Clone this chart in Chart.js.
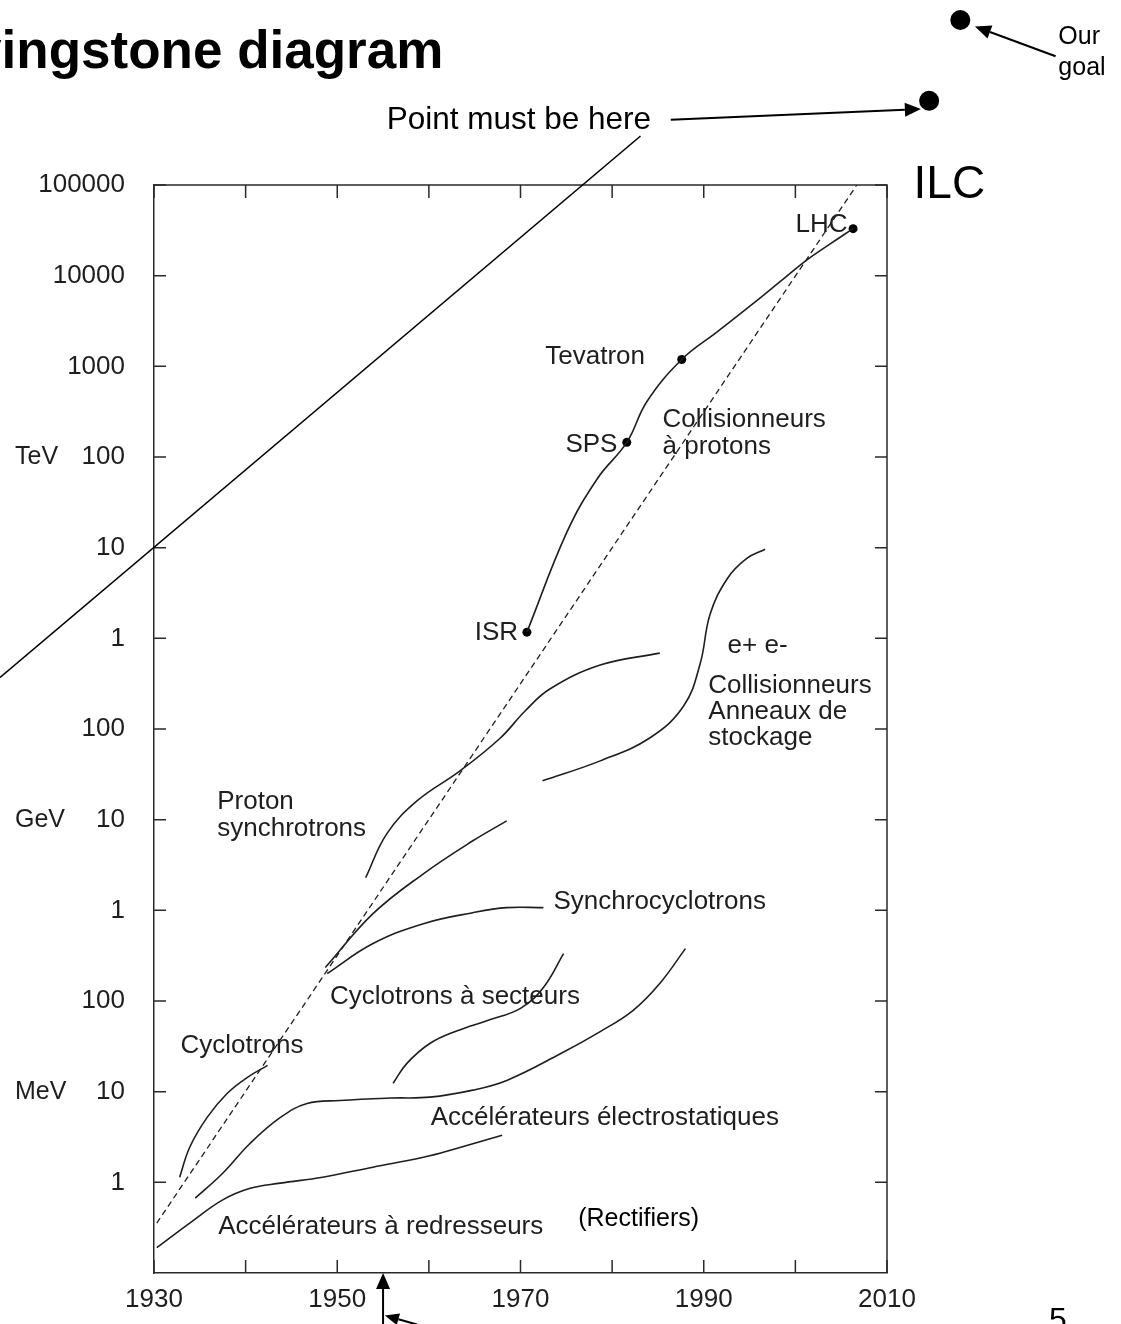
<!DOCTYPE html>
<html>
<head>
<meta charset="utf-8">
<script src="https://cdn.jsdelivr.net/npm/chart.js@4.4.1/dist/chart.umd.min.js"></script>
<style>
  html, body { margin: 0; padding: 0; background: #fff; }
  #wrap { position: relative; width: 1121px; height: 1324px; overflow: hidden; }
</style>
</head>
<body>
<div id="wrap"><canvas id="chart"></canvas></div>
<script>
// --- data (years, beam energy in MeV) ---
const rectifierYears = [1930.3, 1933.9, 1937.5, 1940.5, 1943.8, 1948.4, 1953.9, 1959.4, 1963.1, 1968.0];
const rectifierMeV = [0.19, 0.355, 0.64, 0.86, 0.98, 1.14, 1.47, 1.89, 2.38, 3.3];

const electrostaticYears = [1934.5, 1937.5, 1940.5, 1943.8, 1946.7, 1950.3, 1955.8, 1960.1, 1964.8, 1968.5, 1974.3, 1978.7, 1982.3, 1985.2, 1988.0];
const electrostaticMeV = [0.67, 1.26, 2.7, 5.2, 7.4, 8.0, 8.5, 8.7, 10.4, 13.3, 26, 46, 79, 156, 378];

const cyclotronYears = [1932.8, 1933.9, 1935.8, 1938.0, 1940.2, 1942.4];
const cyclotronMeV = [1.14, 2.44, 5.2, 9.6, 14.4, 19.5];

const sectorYears = [1956.1, 1957.6, 1960.1, 1963.1, 1966.4, 1970.0, 1972.5, 1974.7];
const sectorMeV = [12.4, 20.5, 34, 47, 61, 83, 141, 333];

const synchrocyclotronYears = [1948.9, 1953.9, 1959.4, 1964.8, 1968.5, 1972.5];
const synchrocyclotronMeV = [201, 430, 713, 942, 1070, 1070];

const electronSyncYears = [1948.7, 1953.9, 1959.4, 1964.8, 1968.5];
const electronSyncMeV = [234, 918, 2530, 5850, 9700];

const protonSyncYears = [1953.1, 1955.4, 1958.7, 1963.4, 1967.8, 1970.5, 1973.2, 1978.7, 1985.2];
const protonSyncMeV = [2290, 6980, 16100, 34500, 79600, 158000, 276000, 507000, 687000];

const eeColliderYears = [1972.4, 1978.7, 1984.1, 1987.8, 1989.6, 1990.7, 1992.6, 1994.7, 1996.7];
const eeColliderMeV = [26800, 44500, 79600, 179000, 520000, 1.85e6, 4.6e6, 7.6e6, 9.6e6];

const ppColliderYears = [1970.7, 1975.1, 1978.4, 1981.6, 1983.8, 1987.6, 1991.5, 1995.1, 1998.7, 2001.3, 2003.8, 2006.3];
const ppColliderMeV = [1.17e6, 1.51e7, 5.8e7, 1.45e8, 4.1e8, 1.19e9, 2.41e9, 4.66e9, 9.2e9, 1.5e10, 2.24e10, 3.3e10];

const machineNames = ['ISR', 'SPS', 'Tevatron', 'LHC'];
const machineYears = [1970.7, 1981.6, 1987.6, 2006.3];
const machineMeV = [1.17e6, 1.45e8, 1.19e9, 3.3e10];

const trendYears = [1930.3, 2006.7];
const trendMeV = [0.355, 1e11];

// annotation marks added on the slide (outside the plot box)
const goalNames = ['Point must be here', 'Our goal'];
const goalYears = [2014.6, 2018.0];
const goalMeV = [8.5e11, 6.6e12];
const extrapYears = [1913.2, 1983.1];
const extrapMeV = [3.7e5, 3.47e11];

// tick labels
const xTickLabelYears = [1930, 1950, 1970, 1990, 2010];
const yTickValues = [1, 10, 100, 1e3, 1e4, 1e5, 1e6, 1e7, 1e8, 1e9, 1e10, 1e11];
const yTickLabels = ['1', '10', '100', '1', '10', '100', '1', '10', '100', '1000', '10000', '100000'];
const unitNames = ['MeV', 'GeV', 'TeV'];
const unitAtMeV = [10, 1e4, 1e8];

// text written inside the plot (left edge year, centre energy)
const plotLabels = [
  ['Tevatron', 1972.7, 1.28e9], ['SPS', 1974.9, 1.37e8], ['ISR', 1965.0, 1.14e6],
  ['Collisionneurs', 1985.5, 2.59e8], ['à protons', 1985.5, 1.31e8],
  ['e+ e-', 1992.6, 8.2e5], ['Collisionneurs', 1990.5, 2.98e5], ['Anneaux de', 1990.5, 1.54e5], ['stockage', 1990.5, 7.96e4],
  ['Proton', 1936.9, 1.57e4], ['synchrotrons', 1936.9, 7.9e3],
  ['Synchrocyclotrons', 1973.6, 1.25e3], ['Cyclotrons à secteurs', 1949.2, 112], ['Cyclotrons', 1932.9, 32.4],
  ['Accélérateurs électrostatiques', 1960.2, 5.2], ['Accélérateurs à redresseurs', 1937.0, 0.32]
];

const ink = '#1e1e1e';
const FONT = '"Liberation Sans", Arial, Helvetica, sans-serif';

function pts(xs, ys) {
  return xs.map((x, i) => ({x, y: ys[i]}));
}

function curve(xs, ys, extra) {
  return Object.assign({
    data: pts(xs, ys),
    borderColor: ink,
    borderWidth: 1.6,
    pointRadius: 0,
    fill: false,
    tension: 0.4
  }, extra || {});
}

function arrow(ctx, x1, y1, x2, y2, len, half) {
  const ang = Math.atan2(y2 - y1, x2 - x1);
  const bx = x2 - len * Math.cos(ang), by = y2 - len * Math.sin(ang);
  ctx.beginPath();
  ctx.moveTo(x1, y1);
  ctx.lineTo(bx, by);
  ctx.stroke();
  ctx.beginPath();
  ctx.moveTo(x2, y2);
  ctx.lineTo(bx + half * Math.sin(ang), by - half * Math.cos(ang));
  ctx.lineTo(bx - half * Math.sin(ang), by + half * Math.cos(ang));
  ctx.closePath();
  ctx.fill();
}

const slideNotes = {
  id: 'slideNotes',
  afterDraw(chart) {
    const {ctx, chartArea: a, scales: {x, y}} = chart;
    const px = v => x.getPixelForValue(v);
    const py = v => y.getPixelForValue(v);
    ctx.save();

    // rest of the frame + inward ticks
    ctx.strokeStyle = '#2a2a2a';
    ctx.lineWidth = 1.5;
    ctx.beginPath();
    ctx.moveTo(a.left, a.top); ctx.lineTo(a.right, a.top); ctx.lineTo(a.right, a.bottom);
    ctx.stroke();
    ctx.beginPath();
    yTickValues.forEach(v => {
      const yy = py(v);
      ctx.moveTo(a.left, yy); ctx.lineTo(a.left + 12, yy);
      ctx.moveTo(a.right, yy); ctx.lineTo(a.right - 12, yy);
    });
    x.ticks.forEach(t => {
      const xx = px(t.value);
      ctx.moveTo(xx, a.bottom); ctx.lineTo(xx, a.bottom - 13);
      ctx.moveTo(xx, a.top); ctx.lineTo(xx, a.top + 13);
    });
    ctx.stroke();

    // unit names on the energy axis
    ctx.fillStyle = ink;
    ctx.font = '25px ' + FONT;
    ctx.textAlign = 'left';
    ctx.textBaseline = 'middle';
    unitNames.forEach((u, i) => ctx.fillText(u, 15, py(unitAtMeV[i])));

    // labels inside the plot
    ctx.font = '26px ' + FONT;
    plotLabels.forEach(([t, yr, e]) => ctx.fillText(t, px(yr), py(e)));
    ctx.textAlign = 'right';
    ctx.fillText('LHC', px(2005.7), py(3.63e10));

    // slide overlay in black
    ctx.fillStyle = '#000';
    ctx.strokeStyle = '#000';
    ctx.textAlign = 'left';
    ctx.font = '25px ' + FONT;
    ctx.fillText('(Rectifiers)', px(1976.3), py(0.39));
    ctx.font = '46px ' + FONT;
    ctx.fillText('ILC', px(2012.9), py(1e11));
    ctx.font = '31.5px ' + FONT;
    ctx.fillText('Point must be here', px(1955.4), py(5.2e11));
    ctx.font = '25px ' + FONT;
    ctx.fillText('Our', px(2028.7), py(4.27e12));
    ctx.fillText('goal', px(2028.7), py(1.95e12));

    // extrapolation line
    ctx.lineWidth = 1.6;
    ctx.beginPath();
    ctx.moveTo(px(extrapYears[0]), py(extrapMeV[0]));
    ctx.lineTo(px(extrapYears[1]), py(extrapMeV[1]));
    ctx.stroke();

    // goal dots and arrows
    goalYears.forEach((yr, i) => {
      ctx.beginPath();
      ctx.arc(px(yr), py(goalMeV[i]), 10, 0, Math.PI * 2);
      ctx.fill();
    });
    ctx.lineWidth = 2;
    arrow(ctx, px(1986.4), py(5.25e11), px(2013.7), py(6.9e11), 16, 7);
    arrow(ctx, px(2028.4), py(2.63e12), px(2019.6), py(5.6e12), 16, 7);
    arrow(ctx, px(1955.0), py(0.027), px(1955.0), py(0.1), 16, 7);
    arrow(ctx, px(1958.7), py(0.027), px(1955.2), py(0.034), 14, 6);

    // slide title and page number
    ctx.font = 'bold 53px ' + FONT;
    ctx.textBaseline = 'alphabetic';
    ctx.fillText('Livingstone diagram', -75, 68);
    ctx.font = '32px ' + FONT;
    ctx.fillText('5', 1049, 1330);
    ctx.restore();
  }
};

new Chart(document.getElementById('chart'), {
  type: 'line',
  data: {
    datasets: [
      curve(rectifierYears, rectifierMeV),
      curve(electrostaticYears, electrostaticMeV),
      curve(cyclotronYears, cyclotronMeV),
      curve(sectorYears, sectorMeV),
      curve(synchrocyclotronYears, synchrocyclotronMeV),
      curve(electronSyncYears, electronSyncMeV),
      curve(protonSyncYears, protonSyncMeV),
      curve(eeColliderYears, eeColliderMeV),
      curve(ppColliderYears, ppColliderMeV),
      curve(trendYears, trendMeV, {borderDash: [6, 4], borderWidth: 1.3, tension: 0}),
      {
        label: 'machines',
        data: pts(machineYears, machineMeV),
        showLine: false,
        pointRadius: 4.5,
        pointBackgroundColor: '#000',
        pointBorderWidth: 0
      }
    ]
  },
  options: {
    responsive: true,
    maintainAspectRatio: false,
    animation: false,
    events: [],
    layout: {padding: {top: 185, right: 234, left: 0, bottom: 0}},
    plugins: {legend: {display: false}, tooltip: {enabled: false}},
    scales: {
      x: {
        type: 'linear',
        min: 1930,
        max: 2010,
        afterFit: s => { s.height = 51; },
        grid: {display: false},
        border: {display: true, color: '#2a2a2a', width: 1.5},
        ticks: {
          stepSize: 10,
          autoSkip: false,
          maxRotation: 0,
          padding: 3,
          color: ink,
          font: {family: FONT, size: 26},
          callback: v => xTickLabelYears.includes(v) ? String(v) : ''
        }
      },
      y: {
        type: 'logarithmic',
        min: 0.1,
        max: 1e11,
        afterFit: s => { s.width = 154; },
        afterBuildTicks: s => { s.ticks = yTickValues.map(v => ({value: v})); },
        grid: {display: false},
        border: {display: true, color: '#2a2a2a', width: 1.5},
        ticks: {
          padding: 21,
          color: ink,
          font: {family: FONT, size: 26},
          callback: (v, i) => yTickLabels[i]
        }
      }
    }
  },
  plugins: [slideNotes]
});
</script>
</body>
</html>
